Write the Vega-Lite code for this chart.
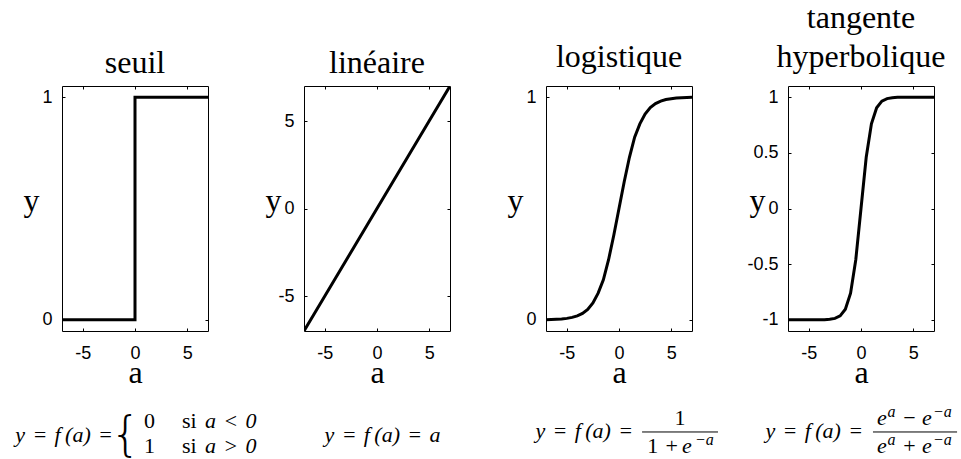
{
  "$schema": "https://vega.github.io/schema/vega-lite/v6.json",
  "background": "white",
  "padding": {"left": 15, "top": 1, "right": 5, "bottom": 0},
  "bounds": "flush",
  "columns": 4,
  "spacing": {"row": 69, "column": 96},
  "datasets": {
    "seuil": [
      {"a": -7, "y": 0}, {"a": 0, "y": 0}, {"a": 0, "y": 1}, {"a": 7, "y": 1}
    ],
    "lineaire": [
      {"a": -7, "y": -7}, {"a": -6, "y": -6}, {"a": -5, "y": -5}, {"a": -4, "y": -4},
      {"a": -3, "y": -3}, {"a": -2, "y": -2}, {"a": -1, "y": -1}, {"a": 0, "y": 0},
      {"a": 1, "y": 1}, {"a": 2, "y": 2}, {"a": 3, "y": 3}, {"a": 4, "y": 4},
      {"a": 5, "y": 5}, {"a": 6, "y": 6}, {"a": 7, "y": 7}
    ],
    "logistique": [
      {"a": -7, "y": 0.0009}, {"a": -6.5, "y": 0.0015}, {"a": -6, "y": 0.0025},
      {"a": -5.5, "y": 0.004}, {"a": -5, "y": 0.0067}, {"a": -4.5, "y": 0.011},
      {"a": -4, "y": 0.018}, {"a": -3.5, "y": 0.029}, {"a": -3, "y": 0.047},
      {"a": -2.5, "y": 0.076}, {"a": -2, "y": 0.12}, {"a": -1.5, "y": 0.18},
      {"a": -1, "y": 0.27}, {"a": -0.5, "y": 0.38}, {"a": 0, "y": 0.5},
      {"a": 0.5, "y": 0.62}, {"a": 1, "y": 0.73}, {"a": 1.5, "y": 0.82},
      {"a": 2, "y": 0.88}, {"a": 2.5, "y": 0.924}, {"a": 3, "y": 0.953},
      {"a": 3.5, "y": 0.971}, {"a": 4, "y": 0.982}, {"a": 4.5, "y": 0.989},
      {"a": 5, "y": 0.993}, {"a": 5.5, "y": 0.996}, {"a": 6, "y": 0.9975},
      {"a": 6.5, "y": 0.9985}, {"a": 7, "y": 0.9991}
    ],
    "tangente": [
      {"a": -7, "y": -1}, {"a": -6, "y": -1}, {"a": -5, "y": -1}, {"a": -4, "y": -0.999},
      {"a": -3.5, "y": -0.998}, {"a": -3, "y": -0.995}, {"a": -2.5, "y": -0.987},
      {"a": -2, "y": -0.964}, {"a": -1.5, "y": -0.905}, {"a": -1, "y": -0.76},
      {"a": -0.5, "y": -0.46}, {"a": 0, "y": 0}, {"a": 0.5, "y": 0.46},
      {"a": 1, "y": 0.76}, {"a": 1.5, "y": 0.905}, {"a": 2, "y": 0.964},
      {"a": 2.5, "y": 0.987}, {"a": 3, "y": 0.995}, {"a": 3.5, "y": 0.998},
      {"a": 4, "y": 0.999}, {"a": 5, "y": 1}, {"a": 6, "y": 1}, {"a": 7, "y": 1}
    ]
  },
  "concat": [
    {
      "title": {"text": "seuil", "offset": 6},
      "width": 146, "height": 245,
      "data": {"name": "seuil"},
      "layer": [
        {
          "mark": {"type": "line", "color": "black", "strokeWidth": 3, "clip": true, "strokeJoin": "miter"},
          "encoding": {
            "x": {"field": "a", "type": "quantitative", "scale": {"domain": [-7, 7], "nice": false, "zero": false},
                  "axis": {"orient": "bottom", "values": [-5, 0, 5], "title": "a"}},
            "y": {"field": "y", "type": "quantitative", "scale": {"domain": [-0.05, 1.05], "nice": false, "zero": false},
                  "axis": {"orient": "left", "values": [0, 1], "title": "y"}},
            "order": {"value": null}
          }
        },
        {
          "mark": {"type": "line", "strokeOpacity": 0},
          "encoding": {
            "x": {"field": "a", "type": "quantitative", "axis": {"orient": "top", "values": [-5, 0, 5], "labels": false, "title": null}},
            "y": {"field": "y", "type": "quantitative", "axis": {"orient": "right", "values": [0, 1], "labels": false, "title": null}},
            "order": {"value": null}
          }
        }
      ],
      "resolve": {"axis": {"x": "independent", "y": "independent"}}
    },
    {
      "title": {"text": "linéaire", "offset": 6},
      "width": 146, "height": 245,
      "data": {"name": "lineaire"},
      "layer": [
        {
          "mark": {"type": "line", "color": "black", "strokeWidth": 3, "clip": true},
          "encoding": {
            "x": {"field": "a", "type": "quantitative", "scale": {"domain": [-7, 7], "nice": false, "zero": false},
                  "axis": {"orient": "bottom", "values": [-5, 0, 5], "title": "a"}},
            "y": {"field": "y", "type": "quantitative", "scale": {"domain": [-7, 7], "nice": false, "zero": false},
                  "axis": {"orient": "left", "values": [-5, 0, 5], "title": "y"}}
          }
        },
        {
          "mark": {"type": "line", "strokeOpacity": 0},
          "encoding": {
            "x": {"field": "a", "type": "quantitative", "axis": {"orient": "top", "values": [-5, 0, 5], "labels": false, "title": null}},
            "y": {"field": "y", "type": "quantitative", "axis": {"orient": "right", "values": [-5, 0, 5], "labels": false, "title": null}}
          }
        }
      ],
      "resolve": {"axis": {"x": "independent", "y": "independent"}}
    },
    {
      "title": {"text": "logistique", "offset": 12},
      "width": 146, "height": 245,
      "data": {"name": "logistique"},
      "layer": [
        {
          "mark": {"type": "line", "color": "black", "strokeWidth": 3, "clip": true},
          "encoding": {
            "x": {"field": "a", "type": "quantitative", "scale": {"domain": [-7, 7], "nice": false, "zero": false},
                  "axis": {"orient": "bottom", "values": [-5, 0, 5], "title": "a"}},
            "y": {"field": "y", "type": "quantitative", "scale": {"domain": [-0.05, 1.05], "nice": false, "zero": false},
                  "axis": {"orient": "left", "values": [0, 1], "title": "y"}}
          }
        },
        {
          "mark": {"type": "line", "strokeOpacity": 0},
          "encoding": {
            "x": {"field": "a", "type": "quantitative", "axis": {"orient": "top", "values": [-5, 0, 5], "labels": false, "title": null}},
            "y": {"field": "y", "type": "quantitative", "axis": {"orient": "right", "values": [0, 1], "labels": false, "title": null}}
          }
        }
      ],
      "resolve": {"axis": {"x": "independent", "y": "independent"}}
    },
    {
      "title": {"text": ["tangente", "hyperbolique"], "offset": 12, "lineHeight": 39},
      "width": 146, "height": 245,
      "data": {"name": "tangente"},
      "layer": [
        {
          "mark": {"type": "line", "color": "black", "strokeWidth": 3, "clip": true},
          "encoding": {
            "x": {"field": "a", "type": "quantitative", "scale": {"domain": [-7, 7], "nice": false, "zero": false},
                  "axis": {"orient": "bottom", "values": [-5, 0, 5], "title": "a"}},
            "y": {"field": "y", "type": "quantitative", "scale": {"domain": [-1.1, 1.1], "nice": false, "zero": false},
                  "axis": {"orient": "left", "values": [-1, -0.5, 0, 0.5, 1], "title": "y"}}
          }
        },
        {
          "mark": {"type": "line", "strokeOpacity": 0},
          "encoding": {
            "x": {"field": "a", "type": "quantitative", "axis": {"orient": "top", "values": [-5, 0, 5], "labels": false, "title": null}},
            "y": {"field": "y", "type": "quantitative", "axis": {"orient": "right", "values": [-1, -0.5, 0, 0.5, 1], "labels": false, "title": null}}
          }
        }
      ],
      "resolve": {"axis": {"x": "independent", "y": "independent"}}
    },
    {
      "width": 146, "height": 60,
      "view": {"stroke": null},
      "data": {"values": [{}]},
      "layer": [
        {
          "mark": {"type": "text", "text": "y\u2004=\u2004f\u2009(a)\u2004=", "align": "right", "baseline": "alphabetic", "font": "Liberation Serif", "fontSize": 22, "fontStyle": "italic"},
          "encoding": {
            "x": {"datum": 0.349, "type": "quantitative", "scale": {"domain": [0, 1]}, "axis": null},
            "y": {"datum": 0.7, "type": "quantitative", "scale": {"domain": [0, 1], "reverse": true}, "axis": null}
          }
        },
        {
          "mark": {"type": "text", "text": "{", "align": "left", "baseline": "alphabetic", "font": "DejaVu Sans", "fontWeight": 200, "fontSize": 48},
          "encoding": {
            "x": {"datum": 0.33, "type": "quantitative", "scale": {"domain": [0, 1]}, "axis": null},
            "y": {"datum": 0.85, "type": "quantitative", "scale": {"domain": [0, 1], "reverse": true}, "axis": null}
          }
        },
        {
          "mark": {"type": "text", "text": ["0", "1"], "lineHeight": 25, "align": "left", "baseline": "alphabetic", "font": "Liberation Serif", "fontSize": 22},
          "encoding": {
            "x": {"datum": 0.562, "type": "quantitative", "scale": {"domain": [0, 1]}, "axis": null},
            "y": {"datum": 0.467, "type": "quantitative", "scale": {"domain": [0, 1], "reverse": true}, "axis": null}
          }
        },
        {
          "mark": {"type": "text", "text": ["si", "si"], "lineHeight": 25, "align": "left", "baseline": "alphabetic", "font": "Liberation Serif", "fontSize": 22},
          "encoding": {
            "x": {"datum": 0.822, "type": "quantitative", "scale": {"domain": [0, 1]}, "axis": null},
            "y": {"datum": 0.467, "type": "quantitative", "scale": {"domain": [0, 1], "reverse": true}, "axis": null}
          }
        },
        {
          "mark": {"type": "text", "text": ["a\u2004<\u20040", "a\u2004>\u20040"], "lineHeight": 25, "align": "left", "baseline": "alphabetic", "font": "Liberation Serif", "fontSize": 22, "fontStyle": "italic"},
          "encoding": {
            "x": {"datum": 0.979, "type": "quantitative", "scale": {"domain": [0, 1]}, "axis": null},
            "y": {"datum": 0.467, "type": "quantitative", "scale": {"domain": [0, 1], "reverse": true}, "axis": null}
          }
        }
      ]
    },
    {
      "width": 146, "height": 60,
      "view": {"stroke": null},
      "data": {"values": [{}]},
      "layer": [
        {
          "mark": {"type": "text", "text": "y\u2004=\u2004f\u2009(a)\u2004=\u2004a", "align": "center", "baseline": "alphabetic", "font": "Liberation Serif", "fontSize": 22, "fontStyle": "italic"},
          "encoding": {
            "x": {"datum": 0.538, "type": "quantitative", "scale": {"domain": [0, 1]}, "axis": null},
            "y": {"datum": 0.7, "type": "quantitative", "scale": {"domain": [0, 1], "reverse": true}, "axis": null}
          }
        }
      ]
    },
    {
      "width": 146, "height": 60,
      "view": {"stroke": null},
      "data": {"values": [{}]},
      "layer": [
        {
          "mark": {"type": "text", "text": "y\u2004=\u2004f\u2009(a)\u2004=", "align": "right", "baseline": "alphabetic", "font": "Liberation Serif", "fontSize": 22, "fontStyle": "italic"},
          "encoding": {
            "x": {"datum": 0.596, "type": "quantitative", "scale": {"domain": [0, 1]}, "axis": null},
            "y": {"datum": 0.633, "type": "quantitative", "scale": {"domain": [0, 1], "reverse": true}, "axis": null}
          }
        },
        {
          "mark": {"type": "rule", "color": "black", "strokeWidth": 1},
          "encoding": {
            "x": {"datum": 0.658, "type": "quantitative", "scale": {"domain": [0, 1]}, "axis": null},
            "x2": {"datum": 1.178},
            "y": {"datum": 0.533, "type": "quantitative", "scale": {"domain": [0, 1], "reverse": true}, "axis": null}
          }
        },
        {
          "mark": {"type": "text", "text": "1", "align": "center", "baseline": "alphabetic", "font": "Liberation Serif", "fontSize": 22},
          "encoding": {
            "x": {"datum": 0.918, "type": "quantitative", "scale": {"domain": [0, 1]}, "axis": null},
            "y": {"datum": 0.417, "type": "quantitative", "scale": {"domain": [0, 1], "reverse": true}, "axis": null}
          }
        },
        {
          "mark": {"type": "text", "text": "1\u2004+", "align": "right", "baseline": "alphabetic", "font": "Liberation Serif", "fontSize": 22},
          "encoding": {
            "x": {"datum": 0.904, "type": "quantitative", "scale": {"domain": [0, 1]}, "axis": null},
            "y": {"datum": 0.883, "type": "quantitative", "scale": {"domain": [0, 1], "reverse": true}, "axis": null}
          }
        },
        {
          "mark": {"type": "text", "text": "e", "align": "left", "baseline": "alphabetic", "font": "Liberation Serif", "fontSize": 22, "fontStyle": "italic"},
          "encoding": {
            "x": {"datum": 0.932, "type": "quantitative", "scale": {"domain": [0, 1]}, "axis": null},
            "y": {"datum": 0.883, "type": "quantitative", "scale": {"domain": [0, 1], "reverse": true}, "axis": null}
          }
        },
        {
          "mark": {"type": "text", "text": "−a", "align": "left", "baseline": "alphabetic", "font": "Liberation Serif", "fontSize": 16, "fontStyle": "italic"},
          "encoding": {
            "x": {"datum": 1.021, "type": "quantitative", "scale": {"domain": [0, 1]}, "axis": null},
            "y": {"datum": 0.75, "type": "quantitative", "scale": {"domain": [0, 1], "reverse": true}, "axis": null}
          }
        }
      ]
    },
    {
      "width": 146, "height": 60,
      "view": {"stroke": null},
      "data": {"values": [{}]},
      "layer": [
        {
          "mark": {"type": "text", "text": "y\u2004=\u2004f\u2009(a)\u2004=", "align": "right", "baseline": "alphabetic", "font": "Liberation Serif", "fontSize": 22, "fontStyle": "italic"},
          "encoding": {
            "x": {"datum": 0.514, "type": "quantitative", "scale": {"domain": [0, 1]}, "axis": null},
            "y": {"datum": 0.633, "type": "quantitative", "scale": {"domain": [0, 1], "reverse": true}, "axis": null}
          }
        },
        {
          "mark": {"type": "rule", "color": "black", "strokeWidth": 1},
          "encoding": {
            "x": {"datum": 0.582, "type": "quantitative", "scale": {"domain": [0, 1]}, "axis": null},
            "x2": {"datum": 1.158},
            "y": {"datum": 0.533, "type": "quantitative", "scale": {"domain": [0, 1], "reverse": true}, "axis": null}
          }
        },
        {
          "mark": {"type": "text", "text": ["e", "e"], "lineHeight": 28, "align": "left", "baseline": "alphabetic", "font": "Liberation Serif", "fontSize": 22, "fontStyle": "italic"},
          "encoding": {
            "x": {"datum": 0.61, "type": "quantitative", "scale": {"domain": [0, 1]}, "axis": null},
            "y": {"datum": 0.417, "type": "quantitative", "scale": {"domain": [0, 1], "reverse": true}, "axis": null}
          }
        },
        {
          "mark": {"type": "text", "text": ["a", "a"], "lineHeight": 28, "align": "left", "baseline": "alphabetic", "font": "Liberation Serif", "fontSize": 16, "fontStyle": "italic"},
          "encoding": {
            "x": {"datum": 0.682, "type": "quantitative", "scale": {"domain": [0, 1]}, "axis": null},
            "y": {"datum": 0.283, "type": "quantitative", "scale": {"domain": [0, 1], "reverse": true}, "axis": null}
          }
        },
        {
          "mark": {"type": "text", "text": ["−", "+"], "lineHeight": 28, "align": "center", "baseline": "alphabetic", "font": "Liberation Serif", "fontSize": 22},
          "encoding": {
            "x": {"datum": 0.832, "type": "quantitative", "scale": {"domain": [0, 1]}, "axis": null},
            "y": {"datum": 0.417, "type": "quantitative", "scale": {"domain": [0, 1], "reverse": true}, "axis": null}
          }
        },
        {
          "mark": {"type": "text", "text": ["e", "e"], "lineHeight": 28, "align": "left", "baseline": "alphabetic", "font": "Liberation Serif", "fontSize": 22, "fontStyle": "italic"},
          "encoding": {
            "x": {"datum": 0.918, "type": "quantitative", "scale": {"domain": [0, 1]}, "axis": null},
            "y": {"datum": 0.417, "type": "quantitative", "scale": {"domain": [0, 1], "reverse": true}, "axis": null}
          }
        },
        {
          "mark": {"type": "text", "text": ["−a", "−a"], "lineHeight": 28, "align": "left", "baseline": "alphabetic", "font": "Liberation Serif", "fontSize": 16, "fontStyle": "italic"},
          "encoding": {
            "x": {"datum": 0.993, "type": "quantitative", "scale": {"domain": [0, 1]}, "axis": null},
            "y": {"datum": 0.283, "type": "quantitative", "scale": {"domain": [0, 1], "reverse": true}, "axis": null}
          }
        }
      ]
    }
  ],
  "config": {
    "view": {"stroke": "black", "strokeWidth": 1},
    "title": {"font": "Liberation Serif", "fontSize": 32, "fontWeight": "normal", "color": "black", "anchor": "middle", "baseline": "alphabetic"},
    "axis": {
      "domain": false, "grid": false,
      "ticks": true, "tickColor": "black", "tickSize": -3, "tickWidth": 1,
      "labelFont": "Liberation Sans", "labelFontSize": 18, "labelColor": "black",
      "labelExpr": "'' + datum.value",
      "titleFont": "Liberation Serif", "titleFontSize": 32, "titleFontWeight": "normal", "titleColor": "black"
    },
    "axisX": {"labelPadding": 16, "titleX": 73, "titleY": 51, "titleAlign": "center", "titleBaseline": "alphabetic", "titleAngle": 0},
    "axisY": {"labelPadding": 13, "titleX": -23, "titleY": 124, "titleAlign": "right", "titleBaseline": "alphabetic", "titleAngle": 0}
  }
}
